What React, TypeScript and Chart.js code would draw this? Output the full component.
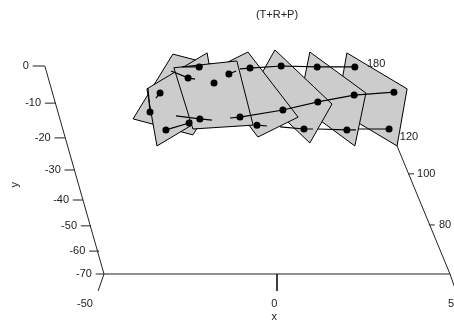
import React, { useEffect, useRef } from "react";
import Chart from "chart.js/auto";

type P = [number, number];

const title = "(T+R+P)";

// Panels, back to front, in front-plane axis units
const panelSeven: P[] = [[20.2, 4.4], [37.6, -7.7], [34.7, -26.9], [17.3, -14.8]];
const panelSix: P[] = [[9.5, 4.7], [25.7, -9.1], [22.5, -26.9], [6.4, -13.1]];
const panelFive: P[] = [[-0.6, 5.4], [15.9, -12.8], [9.5, -25.9], [-6.9, -7.7]];
const panelFour: P[] = [[-8.4, 4.7], [6.1, -17.2], [-5.5, -23.9], [-19.9, -2.0]];
const panelOne: P[] = [[-30.1, 4.0], [-41.6, -17.8], [-24.3, -23.2], [-12.7, -1.3]];
const panelTwo: P[] = [[-37.6, -7.7], [-20.2, 4.4], [-17.3, -14.8], [-34.7, -26.9]];
const panelThree: P[] = [[-29.8, -0.6], [-11.6, 1.7], [-6.9, -19.9], [-24.3, -21.2]];
const panels = [panelSeven, panelSix, panelFive, panelFour, panelOne, panelTwo, panelThree];

// Curves through the panels
const topCurve: P[] = [[-10.7, -1.0], [-7.8, -0.7], [1.2, 0], [11.6, -0.3], [22.5, -0.3]];
const middleCurve: P[] = [[33.8, -8.8], [22.3, -9.8], [11.8, -12.1], [1.7, -14.8], [-10.7, -17.2], [-13.6, -17.5]];
const bottomCurveA: P[] = [[32.4, -21.2], [23.4, -21.2]];
const bottomCurveB: P[] = [[22.8, -21.5], [20.2, -21.5], [11.8, -21.2]];
const bottomCurveC: P[] = [[10.4, -21.2], [7.8, -21.2], [0.9, -20.5]];
const bottomCurveD: P[] = [[-2.9, -20.2], [-5.8, -19.9]];
const stubA: P[] = [[-13.9, -2.7], [-11.8, -1.7]];
const stubB: P[] = [[-30.6, -1.7], [-25.7, -4.0], [-23.7, -4.4]];
const stubC: P[] = [[-27.5, -0.3], [-22.5, -0.3], [-21.4, 0]];
const stubD: P[] = [[-35.0, -10.8], [-33.8, -9.1]];
const stubE: P[] = [[-37.3, -7.4], [-36.7, -15.5]];
const stubF: P[] = [[-32.1, -21.5], [-25.4, -19.2], [-24.6, -18.2]];
const stubG: P[] = [[-29.2, -16.8], [-22.3, -17.8], [-18.8, -18.2]];
const curves = [topCurve, middleCurve, bottomCurveA, bottomCurveB, bottomCurveC, bottomCurveD, stubA, stubB, stubC, stubD, stubE, stubF, stubG];

const markers: P[] = [
  [-22.5, -0.3], [-7.8, -0.7], [1.2, 0], [11.6, -0.3], [22.5, -0.3],
  [-25.7, -4.0], [-33.8, -9.1], [-36.7, -15.5], [-13.9, -2.7], [-18.2, -5.7],
  [1.7, -14.8], [11.8, -12.1], [22.3, -9.8], [33.8, -8.8],
  [-32.1, -21.5], [-25.4, -19.2], [-22.3, -17.8], [-10.7, -17.2], [-5.8, -19.9],
  [7.8, -21.2], [20.2, -21.5], [32.4, -21.2],
];

// Axes
const yAxisLine: P[] = [[-67.1, 0], [-50, -70]];
const zAxisLine: P[] = [[34.7, -26.9], [50, -70]];
const xAxisLine: P[] = [[-50, -70], [50, -70]];
const xAxisTicks: [P, P][] = [
  [[-50, -70], [-51.7, -75.7]],
  [[0, -70], [0, -75.7]],
  [[50, -70], [51.7, -75.7]],
];
const yTickLabels = ["0", "-10", "-20", "-30", "-40", "-50", "-60", "-70"];
const yTickX = [-67.1, -63.9, -61.3, -58.4, -56.1, -53.8, -51.4, -50];
const yTickY = [0, -12.5, -24.2, -35, -45.1, -53.8, -62.3, -70];
const yTickLen = [3.5, 3.2, 3, 3, 2.9, 2.9, 2.9, 2.4];
const zTicks: P[] = [[37.9, -36.3], [43.9, -53.5]];
const zTickLabels: [string, number, number][] = [
  ["180", 26, 0.67],
  ["120", 35.5, -23.9],
  ["100", 40.5, -36.3],
  ["80", 46.8, -53.5],
];
const xTickLabels: [string, number][] = [["-50", -55.5], ["0", -0.8], ["50", 51.2]];

export default function App() {
  const ref = useRef<HTMLCanvasElement>(null);
  useEffect(() => {
    document.body.style.margin = "0";
    const toXY = (p: P) => ({ x: p[0], y: p[1] });
    const lineDs = (pts: P[], w = 1, color = "#000") => ({
      data: pts.map(toXY),
      borderColor: color,
      borderWidth: w,
      pointRadius: 0,
      tension: 0,
      fill: false,
      clip: false as const,
    });
    const panelSets = panels.map((p) => ({
      data: [...p, p[0]].map(toXY),
      borderColor: "#000",
      borderWidth: 1,
      backgroundColor: "#cccccc",
      pointRadius: 0,
      tension: 0,
      fill: "shape",
    }));
    const curveSets = curves.map((c) => lineDs(c, 1.2));
    const markerSet = {
      data: markers.map(toXY),
      showLine: false,
      pointRadius: 3.5,
      pointBackgroundColor: "#000",
      pointBorderWidth: 0,
      fill: false,
    };
    const axisColor = "#222";
    const axisSets = [
      lineDs(yAxisLine, 1, axisColor),
      lineDs(zAxisLine, 1, axisColor),
      lineDs(xAxisLine, 1, axisColor),
      ...xAxisTicks.map((t) => lineDs(t, 1, axisColor)),
      ...yTickX.map((x, i) =>
        lineDs([[x, yTickY[i]], [x - yTickLen[i], yTickY[i]]], 1, axisColor)
      ),
      ...zTicks.map((t) => lineDs([t, [t[0] + 1.7, t[1]]], 1, axisColor)),
    ];

    // Chart.js paints lower-index datasets last, so the back-to-front list is reversed
    const datasets = [...axisSets, ...panelSets, ...curveSets, markerSet].reverse();

    const textPlugin = {
      id: "axisText",
      afterDraw(chart: any) {
        const { ctx, scales } = chart;
        const px = (v: number) => scales.x.getPixelForValue(v);
        const py = (v: number) => scales.y.getPixelForValue(v);
        ctx.save();
        ctx.fillStyle = "#222";
        ctx.font = "11px 'Liberation Sans'";
        ctx.textBaseline = "middle";
        ctx.textAlign = "center";
        ctx.fillText(title, px(0), py(17.3));
        xTickLabels.forEach(([t, x]) => ctx.fillText(t, px(x), py(-80.1)));
        ctx.fillText("x", px(-0.8), py(-84.5));
        ctx.textAlign = "right";
        yTickLabels.forEach((t, i) => ctx.fillText(t, px(yTickX[i] - yTickLen[i] - 1.1), py(yTickY[i])));
        ctx.textAlign = "left";
        zTickLabels.forEach(([t, x, y]) => ctx.fillText(t, px(x), py(y)));
        ctx.translate(px(-75.7), py(-40));
        ctx.rotate(-Math.PI / 2);
        ctx.textAlign = "center";
        ctx.fillText("y", 0, 0);
        ctx.restore();
      },
    };

    const chart = new Chart(ref.current!, {
      type: "line",
      data: { datasets },
      plugins: [textPlugin],
      options: {
        animation: false,
        responsive: false,
        layout: { padding: 0, autoPadding: false },
        scales: {
          x: { type: "linear", display: false, min: -80.06, max: 51.16 },
          y: { type: "linear", display: false, min: -86.83, max: 22.21 },
        },
        plugins: {
          legend: { display: false },
          tooltip: { enabled: false },
          filler: { drawTime: "beforeDatasetDraw", propagate: false },
        },
      } as any,
    });
    return () => chart.destroy();
  }, []);
  return <canvas ref={ref} width={454} height={324} style={{ display: "block" }} />;
}
